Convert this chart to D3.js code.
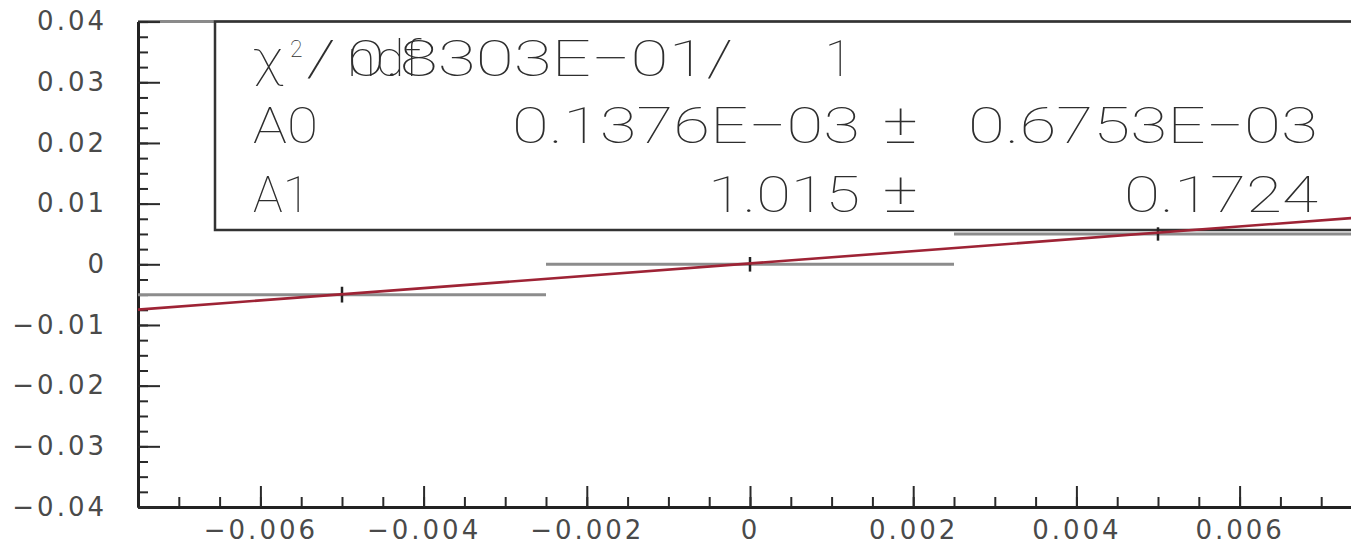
<!DOCTYPE html>
<html>
<head>
<meta charset="utf-8">
<script src="https://cdn.jsdelivr.net/npm/d3@7"></script>
<style>
  html, body { margin: 0; padding: 0; background: #fff; overflow: hidden; }
  svg { display: block; }
  .tick text { font-family: "DejaVu Sans", sans-serif; font-size: 26px; fill: #4a4a4a; letter-spacing: 3px; }
  .stats text { font-family: Roboto, "Liberation Sans", sans-serif; font-weight: 100; font-size: 50px; fill: #2e2e2e; }
</style>
</head>
<body>
<svg id="chart"></svg>
<script>
// data points (bin centre, value, half bin width, y error)
var xCenters = [-0.005, 0, 0.005];
var yValues = [-0.005, 0, 0.005];
var xHalfWidth = [0.0025, 0.0025, 0.0025];
var yErrors = [0.0013, 0.0012, 0.0011];

// fit result
var paramNames = ["A0", "A1"];
var paramValues = [0.1376e-3, 1.015];
var paramErrors = [0.6753e-3, 0.1724];
var chi2 = 0.8303e-1, ndf = 1;

// axes
var xDomain = [-0.0075, 0.0075];
var yDomain = [-0.04, 0.04];
var xMajor = [-0.006, -0.004, -0.002, 0, 0.002, 0.004, 0.006];
var yMajor = [-0.04, -0.03, -0.02, -0.01, 0, 0.01, 0.02, 0.03, 0.04];

var W = 1351, H = 546;
var svg = d3.select("#chart").attr("width", W).attr("height", H);

var x = d3.scaleLinear().domain(xDomain).range([138, 1362]);
var y = d3.scaleLinear().domain(yDomain).range([507, 21.6]);

var xMinor = d3.range(-15, 16).map(function(i) { return i * 0.0005; });
var yMinor = d3.range(-16, 17).map(function(i) { return i * 0.0025; });
var fmt = d3.format("~g");

// ROOT style number: 0.1376E-03
function rootFmt(v) {
  var a = Math.abs(v);
  if (a >= 0.1 && a < 1000) return d3.format(".4~")(v);
  var e = Math.floor(Math.log10(a)) + 1;
  var m = (v / Math.pow(10, e)).toFixed(4);
  var s = e < 0 ? "\u2212" : "+";
  return m + "E" + s + String(Math.abs(e)).padStart(2, "0");
}

// frame top line
svg.append("line")
  .attr("x1", x(xDomain[0])).attr("x2", x(xDomain[1]))
  .attr("y1", y(yDomain[1])).attr("y2", y(yDomain[1]))
  .attr("stroke", "#8a8a8a").attr("stroke-width", 3);

// stats box
var stats = svg.append("g").attr("class", "stats");
stats.append("rect")
  .attr("x", 215).attr("y", y(yDomain[1]))
  .attr("width", 1200).attr("height", 230 - y(yDomain[1]))
  .attr("fill", "#fff").attr("stroke", "#333").attr("stroke-width", 2.5);

var rowY = [76, 143, 212];
var labelX = 253, valEnd = 860, pmX = 883, errEnd = 1318;

function textSpan(str, xStart, yy, len) {
  return stats.append("text").attr("x", xStart).attr("y", yy)
    .attr("textLength", len).attr("lengthAdjust", "spacingAndGlyphs").text(str);
}

// chi2 / ndf row
textSpan("\u03c7", labelX, rowY[0], 30);
stats.append("text").attr("x", 290).attr("y", 57)
  .style("font-size", "23px").text("2");
textSpan("/", 306, rowY[0], 30);
textSpan("ndf", 347, rowY[0], 74);
textSpan(rootFmt(chi2) + "/", 347, rowY[0], 386);
stats.append("text").attr("x", 852).attr("y", rowY[0])
  .attr("text-anchor", "end").text(ndf);

// parameter rows
var valLen = [348, 152], errLen = [350, 194], nameLen = [65, 57];
paramNames.forEach(function(n, i) {
  var yy = rowY[i + 1];
  textSpan(n, labelX, yy, nameLen[i]);
  textSpan(rootFmt(paramValues[i]), valEnd - valLen[i], yy, valLen[i]);
  textSpan("\u00b1", pmX, yy, 35).style("font-size", "56px");
  textSpan(rootFmt(paramErrors[i]), errEnd - errLen[i], yy, errLen[i]);
});

// axes (ticks pointing into the frame)
function styleAxis(g) {
  g.select(".domain").attr("stroke", "#222").attr("stroke-width", 3);
  g.selectAll(".tick line").attr("stroke", "#2a2a2a").attr("stroke-width", 2);
}

svg.append("g").attr("transform", "translate(0," + y(yDomain[0]) + ")")
  .call(d3.axisBottom(x).tickValues(xMinor).tickSizeInner(-10).tickSizeOuter(0).tickFormat(""))
  .call(styleAxis);
svg.append("g").attr("transform", "translate(0," + y(yDomain[0]) + ")")
  .call(d3.axisBottom(x).tickValues(xMajor).tickSizeInner(-21).tickSizeOuter(0)
    .tickPadding(14).tickFormat(fmt))
  .call(styleAxis);

svg.append("g").attr("transform", "translate(" + x(xDomain[0]) + ",0)")
  .call(d3.axisLeft(y).tickValues(yMinor).tickSizeInner(-10).tickSizeOuter(0).tickFormat(""))
  .call(styleAxis);
svg.append("g").attr("transform", "translate(" + x(xDomain[0]) + ",0)")
  .call(d3.axisLeft(y).tickValues(yMajor).tickSizeInner(-22).tickSizeOuter(0)
    .tickPadding(31).tickFormat(fmt))
  .call(styleAxis);

// data: horizontal bin-width bars and vertical error bars
var pts = xCenters.map(function(c, i) {
  return {x: c, y: yValues[i], dx: xHalfWidth[i], dy: yErrors[i]};
});

svg.selectAll(".xbar").data(pts).enter().append("line")
  .attr("class", "xbar")
  .attr("x1", function(d) { return x(d.x - d.dx); })
  .attr("x2", function(d) { return x(d.x + d.dx); })
  .attr("y1", function(d) { return y(d.y); })
  .attr("y2", function(d) { return y(d.y); })
  .attr("stroke", "#8c8c8c").attr("stroke-width", 3);

svg.selectAll(".ybar").data(pts).enter().append("line")
  .attr("class", "ybar")
  .attr("x1", function(d) { return x(d.x); })
  .attr("x2", function(d) { return x(d.x); })
  .attr("y1", function(d) { return y(d.y - d.dy); })
  .attr("y2", function(d) { return y(d.y + d.dy); })
  .attr("stroke", "#222").attr("stroke-width", 2.5);

// fit line  y = A0 + A1 x
var fitLine = d3.line()
  .x(function(d) { return x(d); })
  .y(function(d) { return y(paramValues[0] + paramValues[1] * d); });

svg.append("path")
  .datum(xDomain)
  .attr("d", fitLine)
  .attr("fill", "none")
  .attr("stroke", "#9e2335")
  .attr("stroke-width", 2.6);
</script>
</body>
</html>
